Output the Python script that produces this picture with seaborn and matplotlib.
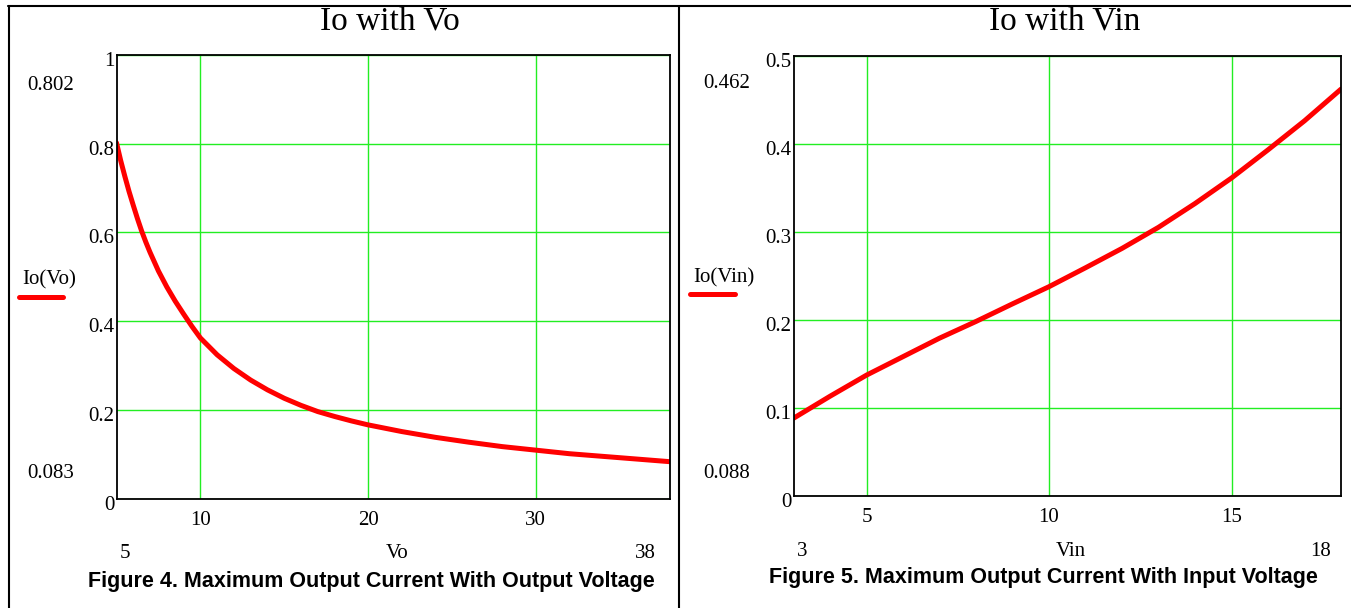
import numpy as np
import pandas as pd
import matplotlib
matplotlib.use("Agg")
import matplotlib.pyplot as plt
import matplotlib.transforms as mtransforms
from matplotlib.lines import Line2D
import seaborn as sns

# data
vo = [5, 5.25, 5.5, 5.75, 6, 6.25, 6.5, 6.75, 7, 7.5, 8, 8.5, 9, 9.5, 10, 11, 12,
      13, 14, 15, 16, 17, 18, 19, 20, 22, 24, 26, 28, 30, 32, 34, 36, 38]
io_vo = [0.802, 0.762, 0.726, 0.692, 0.661, 0.631, 0.603, 0.578, 0.555, 0.513,
         0.477, 0.445, 0.416, 0.388, 0.362, 0.324, 0.293, 0.267, 0.245, 0.226,
         0.210, 0.196, 0.185, 0.175, 0.166, 0.151, 0.138, 0.127, 0.117, 0.109,
         0.101, 0.095, 0.089, 0.083]

vin = [3, 4, 5, 6, 7, 8, 9, 10, 11, 12, 13, 14, 15, 16, 17, 18]
io_vin = [0.088, 0.113, 0.137, 0.158, 0.179, 0.198, 0.218, 0.2375, 0.259, 0.281,
          0.305, 0.332, 0.361, 0.393, 0.426, 0.462]

vo_ticks = [10, 20, 30]
vo_yticks = [0, 0.2, 0.4, 0.6, 0.8, 1]
vo_yticklabels = ["0", "0.2", "0.4", "0.6", "0.8", "1"]
vin_ticks = [5, 10, 15]
vin_yticks = [0, 0.1, 0.2, 0.3, 0.4, 0.5]
vin_yticklabels = ["0", "0.1", "0.2", "0.3", "0.4", "0.5"]

W, H = 1351, 608
SERIF = "Liberation Serif"
SANS = "Liberation Sans"
GREEN = "#22ee22"

sns.set_style("white")
plt.rcParams["font.family"] = [SERIF, "DejaVu Serif"]
plt.rcParams["text.color"] = "black"
plt.rcParams["xtick.color"] = "black"
plt.rcParams["ytick.color"] = "black"

fig = plt.figure(figsize=(W / 100, H / 100), dpi=100)


def px_axes(x0, y0, x1, y1):
    # pixel box (top-left origin) -> figure fraction axes
    return fig.add_axes([x0 / W, 1 - y1 / H, (x1 - x0) / W, (y1 - y0) / H])


def fx(x):
    return x / W


def fy(y):
    return 1 - y / H


def style_axes(ax, xlim, ylim, xt, yt, ytl):
    ax.set_xlim(*xlim)
    ax.set_ylim(*ylim)
    ax.set_xticks(xt)
    ax.set_xticklabels([str(t) for t in xt])
    ax.set_yticks(yt)
    ax.set_yticklabels(ytl)
    ax.grid(True, color=GREEN, lw=1.0)
    ax.set_axisbelow(True)
    for s in ax.spines.values():
        s.set_color("black")
        s.set_linewidth(1.3)
    ax.tick_params(axis="both", length=0, labelsize=15, labelcolor="black")
    ax.tick_params(axis="x", pad=9)
    ax.tick_params(axis="y", pad=1.5)
    off = mtransforms.ScaledTranslation(0, -4 / 100, fig.dpi_scale_trans)
    for lab in ax.get_yticklabels():
        lab.set_transform(lab.get_transform() + off)
    ax.set_xlabel("")
    ax.set_ylabel("")


# left panel: Io with Vo
ax1 = px_axes(116.5, 55, 670, 498.5)
df1 = pd.DataFrame({"Vo": vo, "Io": io_vo})
sns.lineplot(data=df1, x="Vo", y="Io", ax=ax1, color="red", lw=3.6,
             solid_capstyle="round", solid_joinstyle="round")
style_axes(ax1, (5, 38), (0, 1), vo_ticks, vo_yticks, vo_yticklabels)

# right panel: Io with Vin
ax2 = px_axes(793.5, 55.7, 1341, 495.7)
df2 = pd.DataFrame({"Vin": vin, "Io": io_vin})
sns.lineplot(data=df2, x="Vin", y="Io", ax=ax2, color="red", lw=3.6,
             solid_capstyle="round", solid_joinstyle="round")
style_axes(ax2, (3, 18), (0, 0.5), vin_ticks, vin_yticks, vin_yticklabels)

# titles
fig.text(fx(390), fy(22), "Io with Vo", ha="center", va="center", fontsize=24)
fig.text(fx(1065), fy(22), "Io with Vin", ha="center", va="center", fontsize=24)

# min / max annotations (Mathcad style)
fig.text(fx(27), fy(85), f"{io_vo[0]:.3f}", ha="left", va="center", fontsize=15)
fig.text(fx(27), fy(473), f"{io_vo[-1]:.3f}", ha="left", va="center", fontsize=15)
fig.text(fx(703), fy(84), f"{io_vin[-1]:.3f}", ha="left", va="center", fontsize=15)
fig.text(fx(703), fy(473), f"{io_vin[0]:.3f}", ha="left", va="center", fontsize=15)

fig.text(fx(125), fy(554), str(vo[0]), ha="center", va="center", fontsize=15)
fig.text(fx(397), fy(554), "Vo", ha="center", va="center", fontsize=15)
fig.text(fx(645), fy(554), str(vo[-1]), ha="center", va="center", fontsize=15)
fig.text(fx(802), fy(551), str(vin[0]), ha="center", va="center", fontsize=15)
fig.text(fx(1071), fy(551), "Vin", ha="center", va="center", fontsize=15)
fig.text(fx(1321), fy(551), str(vin[-1]), ha="center", va="center", fontsize=15)

# y labels with red legend stroke
fig.text(fx(22), fy(280), "Io(Vo)", ha="left", va="center", fontsize=15)
fig.add_artist(Line2D([fx(19), fx(63)], [fy(297), fy(297)], color="red", lw=3.6,
                      solid_capstyle="round"))
fig.text(fx(693), fy(278), "Io(Vin)", ha="left", va="center", fontsize=15)
fig.add_artist(Line2D([fx(690), fx(735)], [fy(294), fy(294)], color="red", lw=3.6,
                      solid_capstyle="round"))

# captions
fig.text(fx(371.5), fy(581), "Figure 4. Maximum Output Current With Output Voltage",
         ha="center", va="center", fontsize=15.5, fontweight="bold", family=SANS)
fig.text(fx(1043), fy(578), "Figure 5. Maximum Output Current With Input Voltage",
         ha="center", va="center", fontsize=15.5, fontweight="bold", family=SANS)

# frame lines of the document table
fig.add_artist(Line2D([fx(8), fx(W)], [fy(5.5), fy(5.5)], color="black", lw=1.5))
fig.add_artist(Line2D([fx(8.5), fx(8.5)], [fy(5.5), 0], color="black", lw=1.5))
fig.add_artist(Line2D([fx(679), fx(679)], [fy(5.5), 0], color="black", lw=1.5))

fig.savefig("out.png", dpi=100, facecolor="white")
